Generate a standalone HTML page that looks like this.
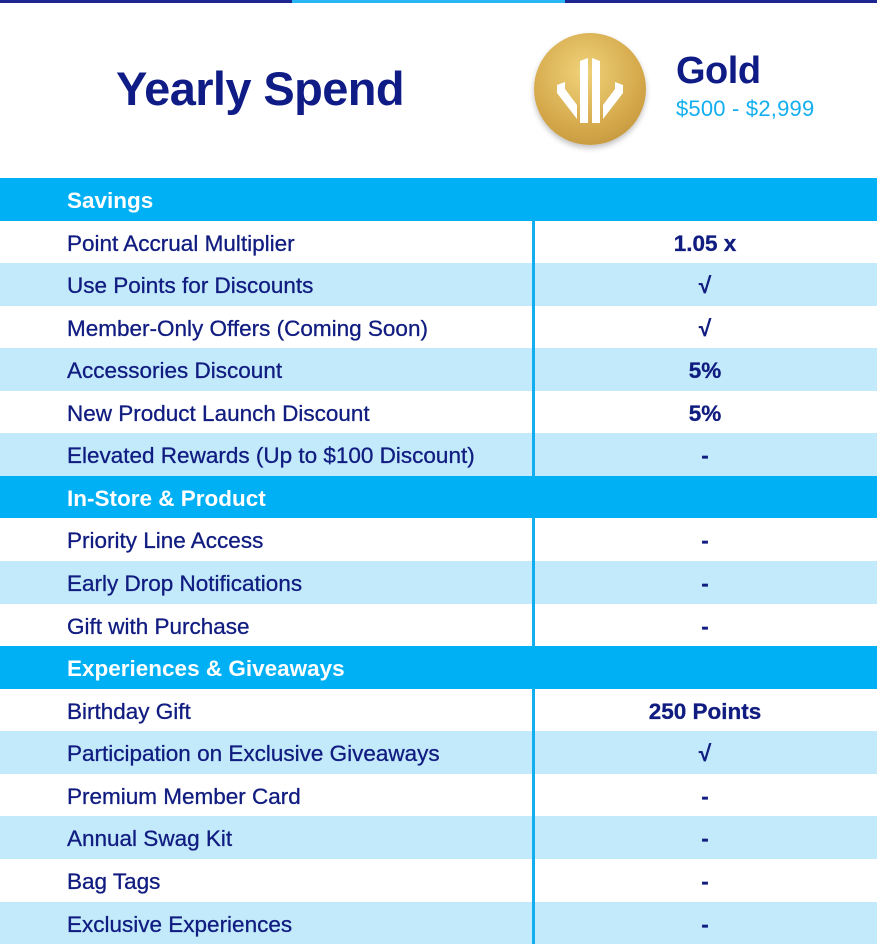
<!DOCTYPE html>
<html><head><style>
*{margin:0;padding:0;box-sizing:border-box}
body{width:877px;height:944px;overflow:hidden;background:#fff;font-family:"Liberation Sans",sans-serif;color:#101c80;position:relative}
.bar{position:absolute;top:0;height:3px}
.title{position:absolute;left:116px;top:61px;font-size:47px;font-weight:bold;letter-spacing:-0.6px;color:#0f1c86}
.gold{position:absolute;left:676px;top:50px;font-size:38px;font-weight:bold;letter-spacing:-0.5px;color:#0f1c86}
.range{position:absolute;left:676px;top:96px;font-size:22px;color:#12aef0;letter-spacing:0.2px}
.coin{position:absolute;left:534px;top:33px;width:112px;height:112px;border-radius:50%;background:radial-gradient(circle at 45% 35%,#f0d27a,#d4a84a 60%,#b98b35);box-shadow:0 3px 6px rgba(0,0,0,.25)}
.row{position:absolute;left:0;width:877px;height:42.56px;font-size:22.5px;letter-spacing:0px;line-height:46px;-webkit-text-stroke:0.3px #101c80}
.row .l{position:absolute;left:67px}
.row .v{position:absolute;left:533px;right:0;text-align:center;font-weight:bold}
.h{background:#00b0f5;color:#fff;font-weight:bold;-webkit-text-stroke:0}
.w{background:#fff}
.b{background:#c3eafb}
.div{position:absolute;left:532px;width:3px;background:#12aef0}
</style></head><body>
<div class="bar" style="left:0;width:292px;background:#1c2590"></div>
<div class="bar" style="left:292px;width:273px;background:#29b6f6"></div>
<div class="bar" style="left:565px;width:312px;background:#1c2590"></div>
<div class="title">Yearly Spend</div>
<div class="coin"><svg width="112" height="112" viewBox="0 0 112 112"><g fill="#fff"><polygon points="46,28 54,25 54,90 46,90"/><polygon points="58,25 66,28 66,90 58,90"/><polygon points="23,52 31,49 31,56 43,72 43,86 23,60"/><polygon points="89,52 81,49 81,56 69,72 69,86 89,60"/></g></svg></div>
<div class="gold">Gold</div>
<div class="range">$500 - $2,999</div>
<div id="t"></div>
<div class="div" style="top:221px;height:255px"></div>
<div class="div" style="top:518px;height:128px"></div>
<div class="div" style="top:689px;height:255px"></div>
<script>
var rows=[["h","Savings",""],["w","Point Accrual Multiplier","1.05 x"],["b","Use Points for Discounts","√"],["w","Member-Only Offers (Coming Soon)","√"],["b","Accessories Discount","5%"],["w","New Product Launch Discount","5%"],["b","Elevated Rewards (Up to $100 Discount)","-"],["h","In-Store & Product",""],["w","Priority Line Access","-"],["b","Early Drop Notifications","-"],["w","Gift with Purchase","-"],["h","Experiences & Giveaways",""],["w","Birthday Gift","250 Points"],["b","Participation on Exclusive Giveaways","√"],["w","Premium Member Card","-"],["b","Annual Swag Kit","-"],["w","Bag Tags","-"],["b","Exclusive Experiences","-"]];
var h="";rows.forEach(function(r,i){h+='<div class="row '+r[0]+'" style="top:'+(178+i*42.56)+'px"><span class="l">'+r[1].replace("&","&amp;")+'</span><span class="v">'+r[2]+'</span></div>';});
document.getElementById("t").innerHTML=h;
</script>
</body></html>
